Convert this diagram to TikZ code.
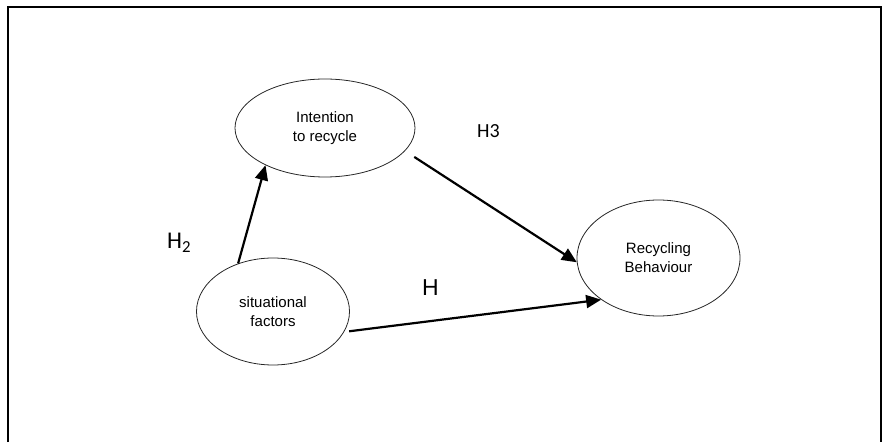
\documentclass[tikz,border=0pt]{standalone}
\usepackage{fontspec}
\setmainfont{Liberation Sans}
\newfontfamily\calib{Carlito}
\usetikzlibrary{arrows.meta, shapes.geometric}

\begin{document}
\begin{tikzpicture}[
    x=1pt, y=1pt,
    >={Triangle[length=15pt, width=13pt]},
    oval/.style={ellipse, draw=black!85, line width=0.8pt, inner sep=0pt,
                 align=center, font=\fontsize{15}{19}\selectfont},
    arr/.style={->, line width=2.2pt},
    hyp/.style={inner sep=0pt, anchor=base west},
  ]
  \useasboundingbox (0,0) rectangle (886,442);
  \draw[line width=2.6pt] (8,0) -- (8,435) -- (881,435) -- (881,0);

  \node[oval, minimum width=180pt, minimum height=98pt] (intent) at (325,314) {Intention\\to recycle};
  \node[oval, minimum width=163pt, minimum height=116pt] (behav) at (658.5,184) {Recycling\\Behaviour};
  \node[oval, minimum width=153pt, minimum height=107pt] (situ) at (273,130.5) {situational\\factors};

  \draw[arr] (situ.126) -- (intent.212);
  \draw[arr, shorten <=11pt] (intent.344) -- (behav.183);
  \draw[arr, shorten <=5pt] (situ.344) -- (behav.216);

  \node[hyp, font=\calib\fontsize{24}{28}\selectfont] (htwo) at (167,193) {H\textsubscript{2}};
  \node[hyp, font=\calib\fontsize{20}{24}\selectfont] (hthree) at (477,304) {H3};
  \node[hyp, font=\fontsize{23}{27}\selectfont] (hone) at (422,146) {H};
\end{tikzpicture}
\end{document}
